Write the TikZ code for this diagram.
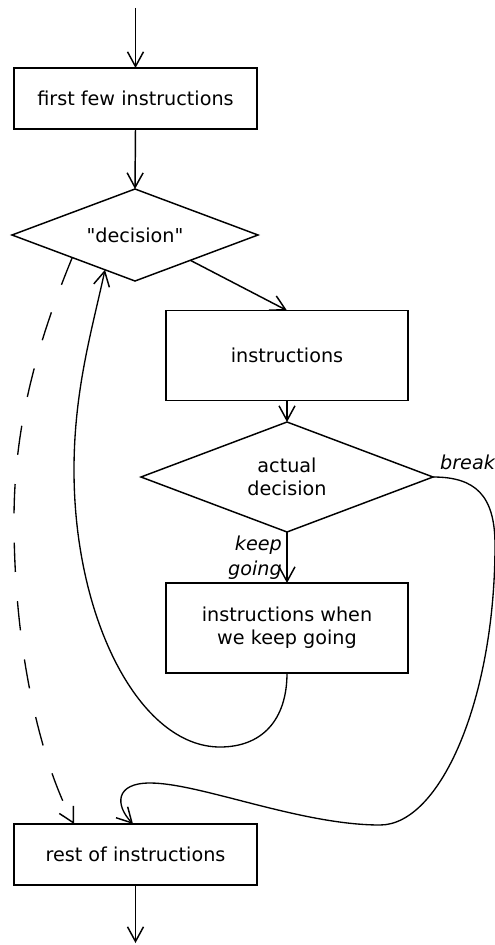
\documentclass[tikz,border=0pt]{standalone}
\usepackage{fontspec}
\setmainfont{DejaVu Sans}[Ligatures=TeXOff]
\usetikzlibrary{shapes.geometric,arrows.meta,calc}
\begin{document}
\begin{tikzpicture}[x=0.75pt,y=-0.75pt,
  every node/.style={font=\fontsize{14.4}{17.5}\selectfont},
  line width=1.1pt,
  >={Straight Barb[length=11pt,width=12pt,line width=1.1pt]},
  box/.style={draw,rectangle,inner sep=0pt,outer sep=0pt,align=center},
  dia/.style={draw,diamond,inner sep=0pt,outer sep=0pt,align=center},
  lbl/.style={font=\fontsize{14.4}{18.5}\selectfont\itshape,align=right},
  loopline/.style={line width=1pt},
  dashline/.style={line width=1pt,dash pattern=on 22pt off 22pt}]
\useasboundingbox (0,0) rectangle (495,945);
\coordinate (top) at (135.5,8);
\coordinate (bot) at (135.5,943);
\node[box,minimum width=182.25pt,minimum height=45.75pt] (b1) at (135.5,98.5) {first few instructions};
\node[dia,aspect=2.674,minimum width=184.5pt,minimum height=69pt] (d1) at (135,235) {"decision"};
\node[box,minimum width=181.5pt,minimum height=67.5pt] (b2) at (287,355.5) {instructions};
\node[dia,aspect=2.65,minimum width=219pt,minimum height=82.5pt] (d2) at (287,477) {actual\\decision};
\node[box,minimum width=181.5pt,minimum height=67.5pt] (b3) at (287,628) {instructions when\\we keep going};
\node[box,minimum width=182.25pt,minimum height=45.75pt] (b4) at (135.5,854.5) {rest of instructions};
\draw[->] (top) -- (b1.north);
\draw[->] (b1.south) -- (d1.north);
\draw[->] ($(d1.south)!0.45!(d1.east)$) -- (b2.north);
\draw[->] (b2.south) -- (d2.north);
\draw[->] (d2.south) -- node[lbl,anchor=east,pos=0.5] {keep\\going} (b3.north);
\draw[->] (b4.south) -- (bot);
\node[lbl,anchor=south west,inner sep=4.8pt] (brk) at (d2.east) {break};
% loop back
\draw[->,loopline] (b3.south) .. controls (287,720) and (262,747) .. (220,747)
  .. controls (140,747) and (74,620) .. (74,470)
  .. controls (74,390) and (92,330) .. ($(d1.west)!0.756!(d1.south)$);
% dashed skip
\draw[->,dashline] ($(d1.west)!0.49!(d1.south)$) .. controls (30,360) and (14,440) .. (14,520)
  .. controls (14,650) and (40,760) .. ($(b4.north west)+(60,0)$);
% break
\draw[->,loopline] (d2.east) .. controls (475,477) and (495,495) .. (495,545)
  .. controls (495,700) and (440,825) .. (380,825)
  .. controls (300,825) and (200,783) .. (150,783)
  .. controls (115,783) and (115,805) .. ($(b4.north west)+(119,0)$);
\end{tikzpicture}
\end{document}
